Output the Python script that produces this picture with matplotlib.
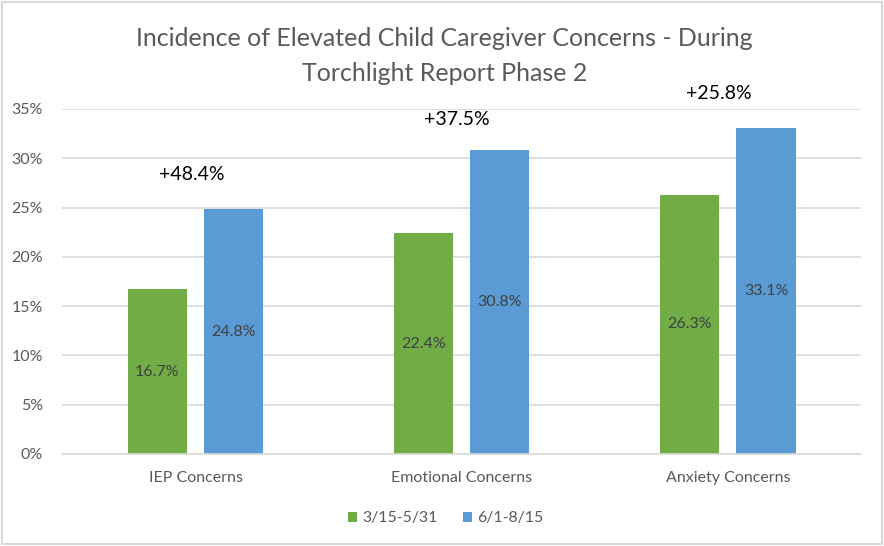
import numpy as np
import matplotlib.pyplot as plt
from matplotlib.patches import Rectangle
from matplotlib.ticker import FuncFormatter

categories = ["IEP Concerns", "Emotional Concerns", "Anxiety Concerns"]
series_names = ["3/15-5/31", "6/1-8/15"]
phase_a = [16.7, 22.4, 26.3]
phase_b = [24.8, 30.8, 33.1]
changes = ["+48.4%", "+37.5%", "+25.8%"]
change_y = [28.3, 33.9, 36.6]
change_dx = [-0.013, -0.017, -0.036]

plt.rcParams["font.family"] = ["Lato", "DejaVu Sans"]

fig = plt.figure(figsize=(8.84, 5.46), dpi=100)
ax = fig.add_axes([0.0705, 0.1685, 0.9035, 0.632])

x = np.arange(len(categories))
w = 0.222
off = 0.143
b1 = ax.bar(x - off, phase_a, w, color="#70AD47", label=series_names[0], zorder=2)
b2 = ax.bar(x + off, phase_b, w, color="#5B9BD5", label=series_names[1], zorder=2)

for bars in (b1, b2):
    for r in bars:
        h = r.get_height()
        ax.text(r.get_x() + r.get_width() / 2, h / 2, f"{h:.1f}%", ha="center", va="center",
                fontsize=11.5, color="#404040", zorder=3)

for i, t in enumerate(changes):
    ax.text(x[i] + change_dx[i], change_y[i], t, ha="center", va="center", fontsize=14,
            color="black", clip_on=False)

ax.set_xlim(-0.5, 2.5)
ax.set_ylim(0, 35)
ax.set_yticks(np.arange(0, 36, 5))
ax.yaxis.set_major_formatter(FuncFormatter(lambda v, p: f"{v:.0f}%"))
ax.set_xticks(x)
ax.set_xticklabels(categories)
ax.tick_params(axis="both", length=0, labelsize=11.5, colors="#595959")
ax.tick_params(axis="x", pad=12)
ax.tick_params(axis="y", pad=14)
ax.grid(axis="y", color="#d9d9d9", linewidth=1.2, zorder=0)
for s in ["left", "right", "top"]:
    ax.spines[s].set_visible(False)
ax.spines["bottom"].set_color("#d9d9d9")
ax.spines["bottom"].set_linewidth(1.2)

fig.text(0.503, 0.898, "Incidence of Elevated Child Caregiver Concerns - During\nTorchlight Report Phase 2",
         ha="center", va="center", fontsize=18, color="#595959", linespacing=1.62)

fig.legend(loc="center", bbox_to_anchor=(0.504, 0.051), ncol=2, frameon=False,
           fontsize=11.4, handlelength=0.6, handleheight=0.6, handletextpad=0.3,
           columnspacing=1.6, labelcolor="#595959")

fig.patches.append(Rectangle((0.002, 0.003), 0.996, 0.994, transform=fig.transFigure,
                             fill=False, edgecolor="#d9d9d9", linewidth=1.5))

plt.savefig("out.png", dpi=100)
